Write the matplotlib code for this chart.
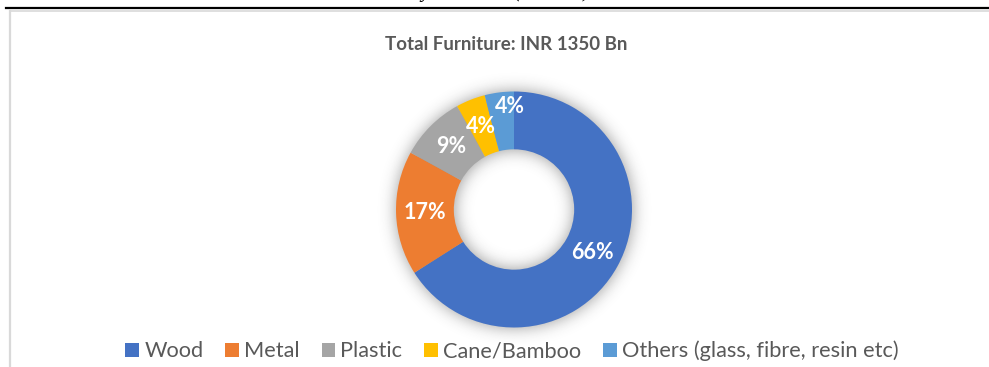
import numpy as np
import matplotlib
matplotlib.use("Agg")
import matplotlib.pyplot as plt
from matplotlib.patches import Patch
from matplotlib.lines import Line2D

# Market split by material (% of total)
materials = ["Wood", "Metal", "Plastic", "Cane/Bamboo", "Others (glass, fibre, resin etc)"]
shares = [66, 17, 9, 4, 4]
colors = ["#4472C4", "#ED7D31", "#A5A5A5", "#FFC000", "#5B9BD5"]
title = "Total Furniture: INR 1350 Bn"
caption = "Exhibit 6: Indian Total Furniture Market Size by Material (INR Bn)"

W, H = 989, 367
fig = plt.figure(figsize=(W / 100, H / 100), dpi=100)
fig.patch.set_facecolor("white")

def px(x, y):
    """pixel (from top-left) -> figure fraction"""
    return x / W, 1 - y / H

# page caption (runs off the top edge) and the rule beneath it
fig.text(*px(25, -3), caption, family="Liberation Serif", style="italic",
         fontsize=15, color="black", va="baseline", ha="left")
fig.add_artist(Line2D([6 / W, 1], [1 - 8 / H] * 2, color="black", lw=1.6,
                      transform=fig.transFigure))
# chart area frame
fig.add_artist(Line2D([10 / W, 1], [1 - 10.5 / H] * 2, color="#D9D9D9", lw=1.2,
                      transform=fig.transFigure))
fig.add_artist(Line2D([10 / W] * 2, [0, 1 - 10.5 / H], color="#D9D9D9", lw=1.6,
                      transform=fig.transFigure))

# donut axes: radius 1 -> 118 px
R = 118.0
lim = 1.3
side = 2 * lim * R
cx, cy = 514, 209.5
ax = fig.add_axes([(cx - side / 2) / W, (H - cy - side / 2) / H, side / W, side / H])
ax.axis("off")

inner = 0.51

# soft shadow around the ring
n = 640
g = np.linspace(-lim, lim, n)
xx, yy = np.meshgrid(g, g)
rr = np.hypot(xx, yy)
ring = ((rr <= 1.0) & (rr >= inner)).astype(float)
sigma = 8.0 / R / (2 * lim / n)
k = np.arange(-int(4 * sigma), int(4 * sigma) + 1)
kern = np.exp(-0.5 * (k / sigma) ** 2)
kern /= kern.sum()
blur = np.apply_along_axis(lambda m: np.convolve(m, kern, mode="same"), 0, ring)
blur = np.apply_along_axis(lambda m: np.convolve(m, kern, mode="same"), 1, blur)
shadow = np.zeros((n, n, 4))
shadow[..., :3] = 0.2
shadow[..., 3] = np.clip(blur, 0, 1) * 0.5
ax.imshow(shadow, extent=(-lim, lim, -lim, lim), origin="lower", zorder=0,
          interpolation="bilinear")

wedges, texts, autotexts = ax.pie(
    shares, colors=colors, startangle=90, counterclock=False, radius=1.0,
    wedgeprops=dict(width=1 - inner, linewidth=0),
    autopct=lambda p: f"{p:.0f}%", pctdistance=(1 + inner) / 2,
    textprops=dict(color="white", fontsize=15.5, fontweight="bold", family="Lato"),
)
for w in wedges:
    w.set_zorder(2)
for t in autotexts:
    t.set_zorder(3)
ax.set_xlim(-lim, lim)
ax.set_ylim(-lim, lim)
ax.set_aspect("equal")

# the last thin slice gets its label pushed outward, near its leading edge
w = wedges[-1]
ang = np.deg2rad(w.theta1 + 0.15 * (w.theta2 - w.theta1))
autotexts[-1].set_position((0.87 * np.cos(ang), 0.87 * np.sin(ang)))

fig.text(*px(506, 45), title, ha="center", va="center", fontsize=13.5,
         fontweight="bold", color="#595959", family="Lato")

handles = [Patch(facecolor=c, edgecolor="none") for c in colors]
leg = fig.legend(handles, materials, loc="center", bbox_to_anchor=px(512, 351),
                 ncol=5, frameon=False, fontsize=15.7, handlelength=0.62,
                 handleheight=0.62, handletextpad=0.25, columnspacing=1.0,
                 borderaxespad=0, borderpad=0)
for t in leg.get_texts():
    t.set_color("#595959")
    t.set_family("Lato")

fig.savefig("out.png", dpi=100, facecolor="white")
